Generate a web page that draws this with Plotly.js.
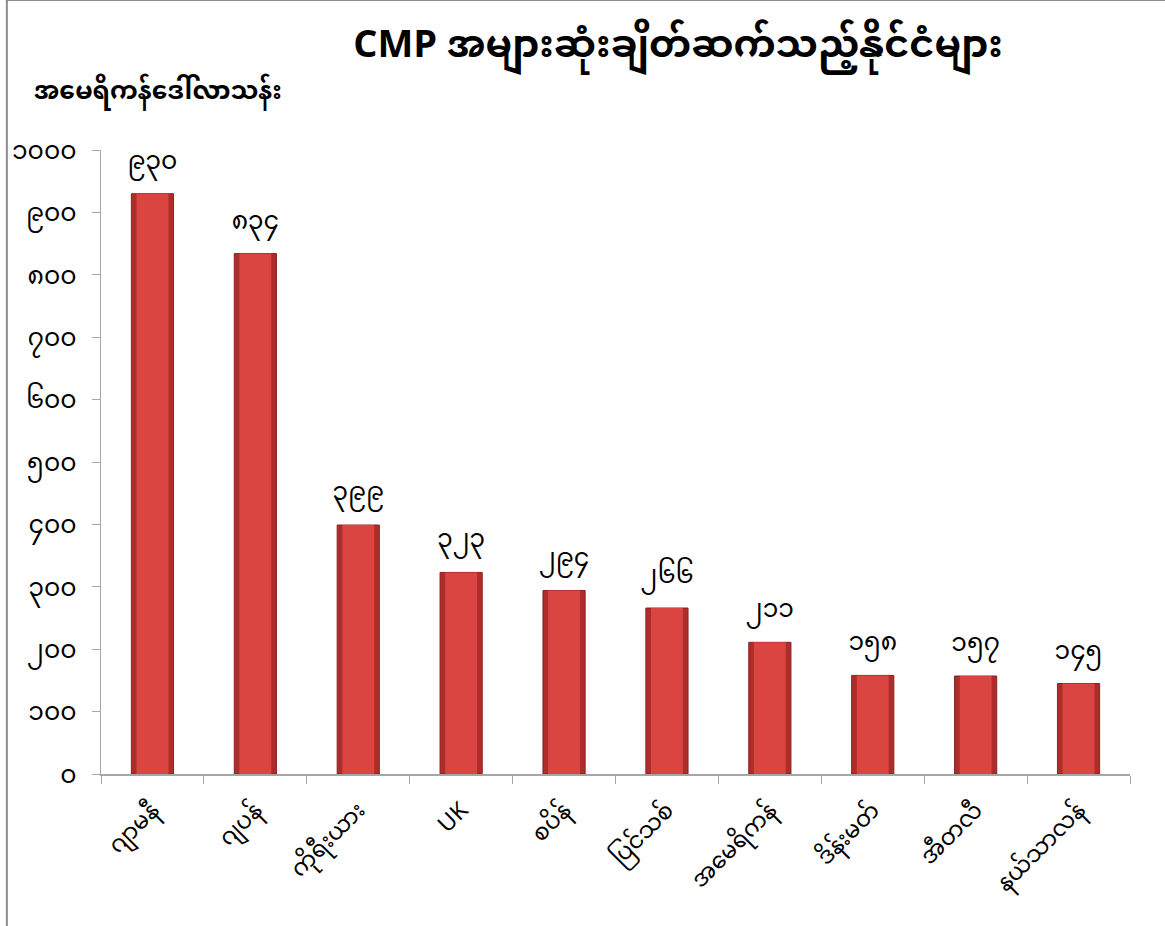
<!DOCTYPE html>
<html>
<head>
<meta charset="utf-8">
<script src="https://cdn.plot.ly/plotly-3.0.1.min.js"></script>
<style>html,body{margin:0;padding:0;background:#fff;}#chart{width:1165px;height:926px;}</style>
</head>
<body>
<div id="chart"></div>
<script>
const categories = ['ဂျာမနီ','ဂျပန်','ကိုရီးယား','UK','စပိန်','ပြင်သစ်','အမေရိကန်','ဒိန်းမတ်','အီတလီ','နယ်သာလန်'];
const values = [930, 834, 399, 323, 294, 266, 211, 158, 157, 145];
const valueLabels = ['၉၃၀','၈၃၄','၃၉၉','၃၂၃','၂၉၄','၂၆၆','၂၁၁','၁၅၈','၁၅၇','၁၄၅'];
const tickValues = [0,100,200,300,400,500,600,700,800,900,1000];
const tickLabels = ['၀','၁၀၀','၂၀၀','၃၀၀','၄၀၀','၅၀၀','၆၀၀','၇၀၀','၈၀၀','၉၀၀','၁၀၀၀'];
const titleText = 'CMP အများဆုံးချိတ်ဆက်သည့်နိုင်ငံများ';
const yTitleText = 'အမေရိကန်ဒေါ်လာသန်း';

const FONT = '"Noto Sans Myanmar", "Padauk", "Myanmar Text", "Noto Sans", "DejaVu Sans", sans-serif';

const outer = {
  type: 'bar', x: categories, y: values, width: 0.41,
  marker: {color: '#ad2d2b', line: {color: '#8a2220', width: 1}},
  text: valueLabels, textposition: 'outside', cliponaxis: false, constraintext: 'none',
  textfont: {family: FONT, size: 25, color: '#000'},
  hoverinfo: 'x+y', showlegend: false
};
const inner = {
  type: 'bar', x: categories, y: values, width: 0.31,
  marker: {color: '#da4542', line: {width: 0}},
  hoverinfo: 'skip', showlegend: false
};

const layout = {
  width: 1165, height: 926,
  paper_bgcolor: '#fff', plot_bgcolor: '#fff',
  margin: {l: 101, r: 35, t: 150, b: 152},
  barmode: 'overlay',
  title: {text: '<b>' + titleText + '</b>', xref: 'container', x: 0.582, xanchor: 'center',
          yref: 'container', y: 0.953, yanchor: 'middle',
          font: {family: FONT, size: 38, color: '#000'}},
  xaxis: {
    type: 'category', tickangle: -45, showgrid: false, zeroline: false,
    showline: true, linecolor: '#a6a6a6', linewidth: 1.5,
    ticks: 'outside', ticklen: 8, tickcolor: '#a6a6a6', tickson: 'boundaries',
    tickfont: {family: FONT, size: 23, color: '#000'}, ticklabelstandoff: 12
  },
  yaxis: {
    range: [0, 1000], tickvals: tickValues, ticktext: tickLabels,
    showgrid: false, zeroline: false, showline: true, linecolor: '#a6a6a6', linewidth: 1.5,
    ticks: 'outside', ticklen: 8, tickcolor: '#a6a6a6',
    tickfont: {family: FONT, size: 25, color: '#000'}, ticklabelstandoff: 10
  },
  annotations: [{
    text: '<b>' + yTitleText + '</b>', xref: 'paper', yref: 'paper',
    x: -0.067, y: 1.09, xanchor: 'left', yanchor: 'middle', showarrow: false,
    font: {family: FONT, size: 25, color: '#000'}
  }],
  shapes: [
    {type: 'line', xref: 'paper', yref: 'paper', x0: -0.0915, x1: 1.04, y0: 1.2405, y1: 1.2405,
     line: {color: '#8c8c8c', width: 2}},
    {type: 'line', xref: 'paper', yref: 'paper', x0: -0.0915, x1: -0.0915, y0: -0.3, y1: 1.2405,
     line: {color: '#8c8c8c', width: 2}}
  ]
};

Plotly.newPlot('chart', [outer, inner], layout, {displayModeBar: false, staticPlot: true});
</script>
</body>
</html>
